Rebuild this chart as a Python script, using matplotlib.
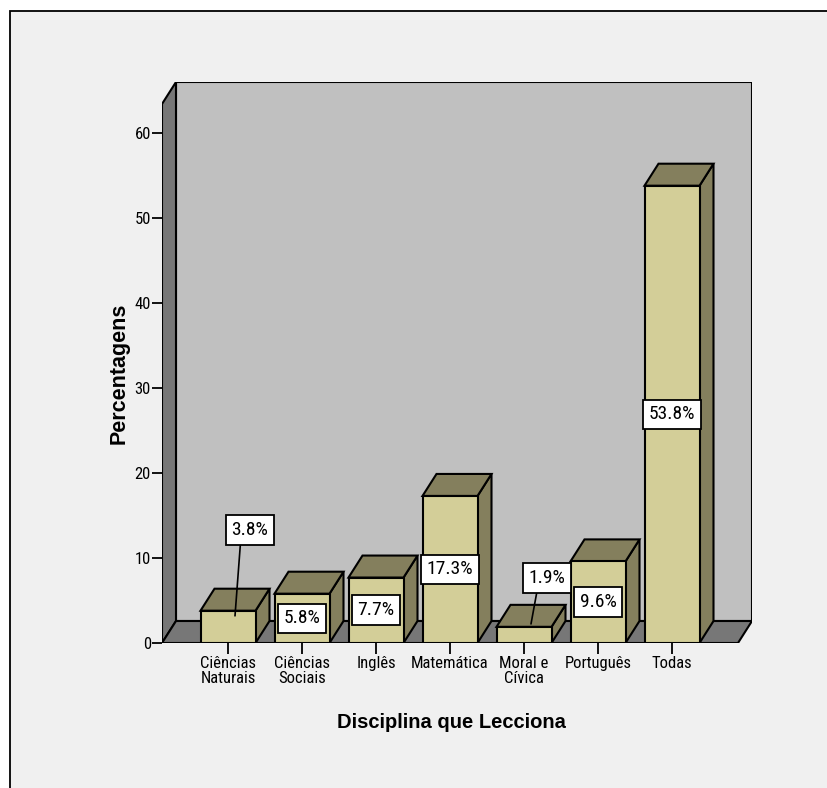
import matplotlib
matplotlib.use("Agg")
import matplotlib.pyplot as plt
from matplotlib.patches import Polygon, Rectangle
from matplotlib import font_manager as fm

# ---- data ----
categories = ["Ciências\nNaturais", "Ciências\nSociais", "Inglês", "Matemática",
              "Moral e\nCívica", "Português", "Todas"]
percentages = [3.8, 5.8, 7.7, 17.3, 1.9, 9.6, 53.8]
value_labels = ["3.8%", "5.8%", "7.7%", "17.3%", "1.9%", "9.6%", "53.8%"]
y_ticks = [0, 10, 20, 30, 40, 50, 60]
x_title = "Disciplina que Lecciona"
y_title = "Percentagens"


def pick_font(names):
    for n in names:
        try:
            fm.findfont(fm.FontProperties(family=n), fallback_to_default=False)
            return n
        except Exception:
            pass
    return None


narrow = pick_font(["Liberation Sans Narrow", "Arial Narrow", "Roboto Condensed"])
regular = pick_font(["Liberation Sans", "Arial"]) or "DejaVu Sans"
if narrow:
    small_family, tick_size, val_size = narrow, 12, 14
else:
    small_family, tick_size, val_size = regular, 11, 13

W, H = 827, 788
fig = plt.figure(figsize=(W / 100, H / 100), dpi=100, facecolor="white")

# panel background with frame on left/top
fig.patches.append(Rectangle((9.5 / W, -0.05), 1.2, 1 - 10.5 / H + 0.05,
                             transform=fig.transFigure, facecolor="#f0f0f0",
                             edgecolor="black", linewidth=1.3, zorder=-10))

# axes geometry (pixels)
px_left, px_right = 162, 752
px_top, px_bottom = 82, 643
ax = fig.add_axes([px_left / W, 1 - px_bottom / H,
                   (px_right - px_left) / W, (px_bottom - px_top) / H])
ax.set_facecolor("none")
for s in ax.spines.values():
    s.set_visible(False)

unit_x = 74.0       # pixels per category
unit_y = 8.5        # pixels per percent
x0 = -66 / unit_x
x1 = x0 + (px_right - px_left - 14) / unit_x
DX = 14 / unit_x
DY = 22 / unit_y
ytop = (px_bottom - 104) / unit_y
ax.set_xlim(x0, x1 + DX)
ax.set_ylim(0, ytop + DY)

edge = dict(edgecolor="black", linewidth=1.5, joinstyle="miter")
wall_side = "#777777"
wall_back = "#c0c0c0"
bar_front = "#d3ce98"
bar_dark = "#847f5d"

# back wall, left wall, floor
ax.add_patch(Polygon([(x0 + DX, DY), (x1 + DX, DY), (x1 + DX, ytop + DY),
                      (x0 + DX, ytop + DY)], closed=True, facecolor=wall_back, **edge))
ax.add_patch(Polygon([(x0, 0), (x0, ytop), (x0 + DX, ytop + DY), (x0 + DX, DY)],
                     closed=True, facecolor=wall_side, **edge))
ax.add_patch(Polygon([(x0, 0), (x1, 0), (x1 + DX, DY), (x0 + DX, DY)],
                     closed=True, facecolor=wall_side, **edge))

bw = 55 / unit_x
for i, v in enumerate(percentages):
    l, r = i - bw / 2, i + bw / 2
    ax.add_patch(Polygon([(r, 0), (r + DX, DY), (r + DX, v + DY), (r, v)],
                         closed=True, facecolor=bar_dark, **edge))
    ax.add_patch(Polygon([(l, v), (r, v), (r + DX, v + DY), (l + DX, v + DY)],
                         closed=True, facecolor=bar_dark, **edge))
    ax.add_patch(Rectangle((l, 0), bw, v, facecolor=bar_front, **edge))

# value labels
box = dict(boxstyle="square,pad=0.3", facecolor="white", edgecolor="black", linewidth=1.3)
callout = {0: (22, 97), 4: (23, 57)}   # pixel offsets of callout boxes
for i, (v, t) in enumerate(zip(percentages, value_labels)):
    if i in callout:
        cx = i + DX / 2
        cy = v / 2 + DY / 2
        ox, oy = callout[i]
        ax.annotate(t, xy=(cx, cy), xytext=(i + ox / unit_x, v / 2 + oy / unit_y),
                    ha="center", va="center", fontsize=val_size, family=small_family,
                    bbox=box, zorder=5,
                    arrowprops=dict(arrowstyle="-", color="black", lw=1.2,
                                    relpos=(0.25, 0), shrinkA=0, shrinkB=0))
    else:
        ax.text(i, v / 2, t, ha="center", va="center", fontsize=val_size,
                family=small_family, bbox=box, zorder=5)

# ticks
ax.set_yticks(y_ticks)
ax.set_yticklabels([str(t) for t in y_ticks], family=small_family, fontsize=tick_size)
ax.set_xticks(range(len(categories)))
ax.set_xticklabels(categories, family=small_family, fontsize=tick_size, linespacing=0.95)
ax.tick_params(axis="y", length=7, width=1.3, pad=1, direction="out")
ax.tick_params(axis="x", length=8, width=1.3, pad=1.5, direction="out")

# axis titles
fig.text(451 / W, 1 - 728 / H, x_title, ha="center", va="baseline",
         fontsize=14.5, fontweight="bold", family=regular)
fig.text(119 / W, 1 - 373 / H, y_title, ha="center", va="center", rotation=90,
         fontsize=15.5, fontweight="bold", family=regular)

fig.savefig("out.png", dpi=100, facecolor=fig.get_facecolor())
